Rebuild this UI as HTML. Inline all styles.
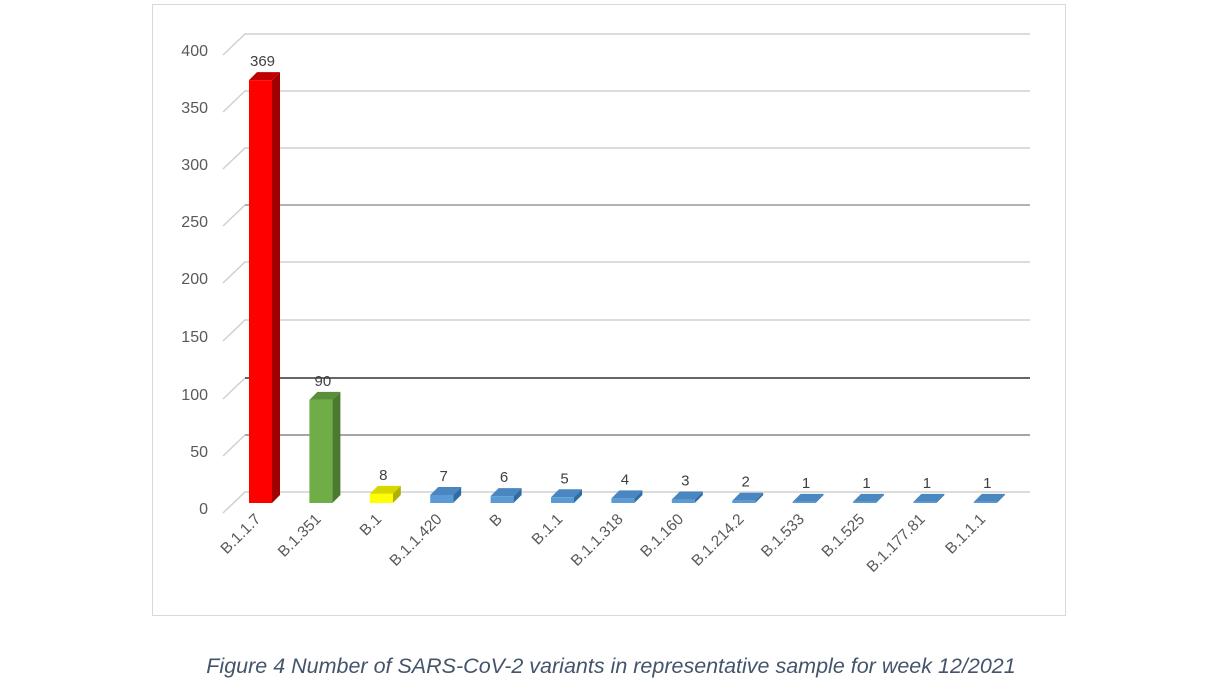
<!DOCTYPE html>
<html><head><meta charset="utf-8"><style>
html,body{margin:0;padding:0;background:#fff;width:1224px;height:687px;overflow:hidden}
svg text{font-family:"Liberation Sans",sans-serif}
</style></head><body>
<svg width="1224" height="687" xmlns="http://www.w3.org/2000/svg">
<rect x="152.5" y="4.5" width="913" height="611" fill="#fff" stroke="#d9d9d9"/>
<g stroke-width="1.5" fill="none">
<g stroke="#d0d0d0">
<path d="M223,55 L245,34 L1030,34"/>
<path d="M223,112 L245,91 L1030,91"/>
<path d="M223,169 L245,148 L1030,148"/>
<path d="M223,226 L245,205 L1030,205"/>
<path d="M223,283 L245,262 L1030,262"/>
<path d="M223,341 L245,320 L1030,320"/>
<path d="M223,399 L245,378"/>
<path d="M223,456 L245,435"/>
<path d="M223,513 L245,492 L1030,492"/>
</g>
<path d="M245,205 L1030,205" stroke="#a0a0a0"/>
<path d="M245,378 L1030,378" stroke="#333"/>
<path d="M245,435 L1030,435" stroke="#888"/>
</g>
<g font-size="16" fill="#595959" text-anchor="end">
<text x="208" y="56">400</text><text x="208" y="113">350</text><text x="208" y="170">300</text>
<text x="208" y="227">250</text><text x="208" y="284">200</text><text x="208" y="342">150</text>
<text x="208" y="400">100</text><text x="208" y="457">50</text><text x="208" y="514">0</text>
</g>
<g id="bars"></g>
<g id="lbl" font-size="15" fill="#404040" text-anchor="middle"></g>
<g id="cat" font-size="15.5" fill="#595959" text-anchor="end"></g>
<text x="611" y="673" text-anchor="middle" font-size="21.5" font-style="italic" fill="#44546a">Figure 4 Number of SARS-CoV-2 variants in representative sample for week 12/2021</text>
<script>
var d=[["B.1.1.7",369,"#ff0000","#a00000","#c00000"],["B.1.351",90,"#70ad47","#4a7a2f","#5a8f38"],["B.1",8,"#ffff00","#b0b000","#d8d800"]];
var rest=[["B.1.1.420",7],["B",6],["B.1.1",5],["B.1.1.318",4],["B.1.160",3],["B.1.214.2",2],["B.1.533",1],["B.1.525",1],["B.1.177.81",1],["B.1.1.1",1]];
rest.forEach(function(r){d.push([r[0],r[1],"#5b9bd5","#2e6da4","#4a86c0"])});
var ns="http://www.w3.org/2000/svg",B=document.getElementById("bars"),L=document.getElementById("lbl"),C=document.getElementById("cat");
function el(p,t,a,tx){var e=document.createElementNS(ns,t);for(var k in a)e.setAttribute(k,a[k]);if(tx!=null)e.textContent=tx;p.appendChild(e);}
d.forEach(function(b,i){
 var x=249+i*60.4,w=23,dx=8,dy=8,by=503,h=b[1]*1.146,ty=by-h;
 el(B,"path",{d:"M"+(x+w)+","+by+" L"+(x+w+dx)+","+(by-dy)+" L"+(x+w+dx)+","+(ty-dy)+" L"+(x+w)+","+ty+"Z",fill:b[3]});
 el(B,"path",{d:"M"+x+","+ty+" L"+(x+dx)+","+(ty-dy)+" L"+(x+w+dx)+","+(ty-dy)+" L"+(x+w)+","+ty+"Z",fill:b[4]});
 el(B,"rect",{x:x,y:ty,width:w,height:h,fill:b[2]});
 el(L,"text",{x:x+w/2+2,y:ty-dy-6},String(b[1]));
 var cx=x+w/2+1,cy=520;
 el(C,"text",{x:cx,y:cy,transform:"rotate(-45 "+cx+" "+cy+")"},b[0]);
});
</script>
</svg>
</body></html>
